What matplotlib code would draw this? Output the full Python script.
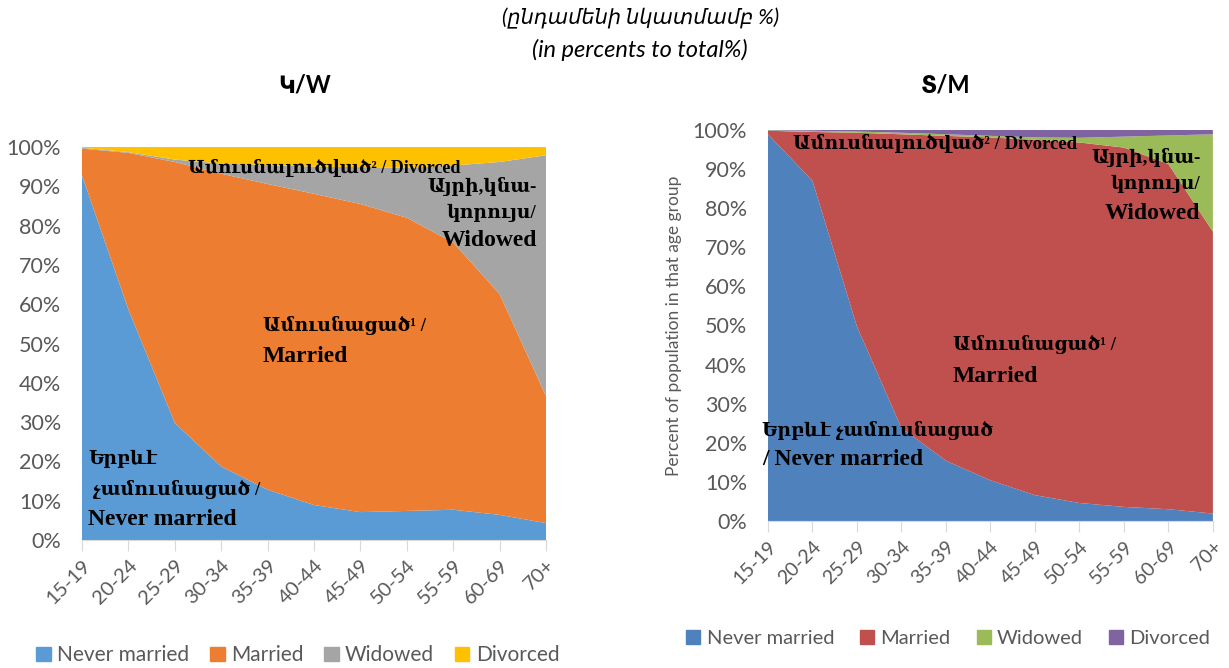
import numpy as np
import matplotlib.pyplot as plt
from matplotlib.patches import Patch

# age groups
ages = ['15-19', '20-24', '25-29', '30-34', '35-39', '40-44',
        '45-49', '50-54', '55-59', '60-69', '70+']

# women (percent of the age group)
w_never = [92.8, 58.7, 29.8, 18.7, 12.8, 8.9, 7.1, 7.4, 7.7, 6.4, 4.3]
w_married = [6.8, 39.8, 66.4, 74.5, 77.8, 79.2, 78.4, 74.6, 68.0, 56.2, 32.3]
w_widowed = [0.2, 0.2, 0.6, 2.6, 4.8, 6.9, 9.4, 12.7, 19.6, 33.6, 61.3]
w_divorced = [0.2, 1.3, 3.2, 4.2, 4.6, 5.0, 5.1, 5.3, 4.7, 3.8, 2.1]

# men
m_never = [98.9, 87.0, 49.7, 23.8, 15.4, 10.4, 6.6, 4.6, 3.6, 3.0, 1.9]
m_married = [0.9, 12.5, 49.6, 75.1, 83.1, 87.7, 90.9, 92.2, 91.9, 88.3, 72.1]
m_widowed = [0.1, 0.3, 0.3, 0.4, 0.4, 0.4, 0.6, 1.2, 2.8, 7.3, 24.9]
m_divorced = [0.1, 0.2, 0.4, 0.7, 1.1, 1.5, 1.9, 2.0, 1.7, 1.4, 1.1]

legend_names = ['Never married', 'Married', 'Widowed', 'Divorced']
w_colors = ['#5B9BD5', '#ED7D31', '#A5A5A5', '#FFC000']
m_colors = ['#4F81BD', '#C0504D', '#9BBB59', '#8064A2']

sans = ['Lato', 'DejaVu Sans']
serif = ['Liberation Serif', 'DejaVu Serif']
grey = '#595959'
ARM = 13.5   # size for lines in Armenian (DejaVu glyphs run wide)
LAT = 17     # size for latin-only lines

fig = plt.figure(figsize=(12.29, 6.68), dpi=100)


def draw(ax, series, colors, fs_y, fs_x):
    x = np.arange(len(ages))
    ax.stackplot(x, *series, colors=colors, linewidth=0)
    ax.set_xlim(0, len(ages) - 1)
    ax.set_ylim(0, 100)
    ax.set_yticks(range(0, 101, 10))
    ax.set_yticklabels([f'{v}%' for v in range(0, 101, 10)], family=sans,
                       fontsize=fs_y, color=grey)
    ax.set_xticks(x)
    ax.set_xticklabels(ages, rotation=45, ha='right', rotation_mode='anchor',
                       family=sans, fontsize=fs_x, color=grey)
    for s in ['top', 'right', 'left']:
        ax.spines[s].set_visible(False)
    ax.spines['bottom'].set_color('#D9D9D9')
    ax.tick_params(axis='y', length=0, pad=15)
    ax.tick_params(axis='x', length=8, color='#D9D9D9', pad=4)


def note(ax, x, y, lines, step=21.5, ha='left'):
    # one text per line, so the armenian and latin lines can differ in size
    for i, (s, size) in enumerate(lines):
        ax.annotate(s, (x, y), xytext=(0, -step * i), textcoords='offset points',
                    va='top', ha=ha, family=serif, fontweight='bold',
                    fontsize=size, color='black', annotation_clip=False)


# women
ax1 = fig.add_axes([0.0667, 0.1916, 0.3776, 0.5883])
draw(ax1, [w_never, w_married, w_widowed, w_divorced], w_colors, 15.5, 14.5)
note(ax1, 2.28, 97.0, [('Ամուսնալուծված² / Divorced', 13)])
note(ax1, 9.8, 92.3, [('Այրի,կնա-', ARM), ('կորույս/', ARM),
                      ('Widowed', LAT)], step=19, ha='right')
note(ax1, 3.9, 57.0, [('Ամուսնացած¹ /', ARM), ('Married', LAT)])
note(ax1, 0.13, 23.0, [('Երբևէ', ARM), (' չամուսնացած /', ARM),
                       ('Never married', LAT)])
ax1.legend([Patch(color=c) for c in w_colors], legend_names, ncol=4,
           loc='center', bbox_to_anchor=(0.465, -0.293), frameon=False,
           handlelength=0.7, handleheight=0.7, handletextpad=0.3,
           columnspacing=1.0, prop={'family': sans, 'size': 15},
           labelcolor=grey)

# men
ax2 = fig.add_axes([0.6249, 0.2201, 0.362, 0.5853])
draw(ax2, [m_never, m_married, m_widowed, m_divorced], m_colors, 15.5, 14)
ax2.set_ylabel('Percent of population in that age group', family=sans,
               fontsize=12.5, color=grey, labelpad=8)
note(ax2, 0.56, 99.0, [('Ամուսնալուծված² / Divorced', ARM)])
note(ax2, 9.72, 95.5, [('Այրի,կնա-', ARM), ('կորույս/', ARM),
                       ('Widowed', LAT)], step=20, ha='right')
note(ax2, 4.16, 47.5, [('Ամուսնացած¹ /', ARM), ('Married', LAT)], step=22)
note(ax2, -0.13, 25.5, [('Երբևէ չամուսնացած', ARM), ('/ Never married', LAT)],
     step=20)
ax2.legend([Patch(color=c) for c in m_colors], legend_names, ncol=4,
           loc='center', bbox_to_anchor=(0.405, -0.30), frameon=False,
           handlelength=0.7, handleheight=0.7, handletextpad=0.3,
           columnspacing=1.3, prop={'family': sans, 'size': 14.5},
           labelcolor=grey)

# titles
fig.text(0.521, 0.972, '(ընդամենի նկատմամբ %)', ha='center', va='center',
         family=sans, style='italic', fontsize=15)
fig.text(0.521, 0.925, '(in percents to total%)', ha='center', va='center',
         family=sans, style='italic', fontsize=17)
fig.text(0.248, 0.873, 'Կ/W', ha='center', va='center', family=sans,
         fontweight='bold', fontsize=17)
fig.text(0.769, 0.873, 'Տ/M', ha='center', va='center', family=sans,
         fontweight='bold', fontsize=17)

fig.savefig('out.png', dpi=100)
